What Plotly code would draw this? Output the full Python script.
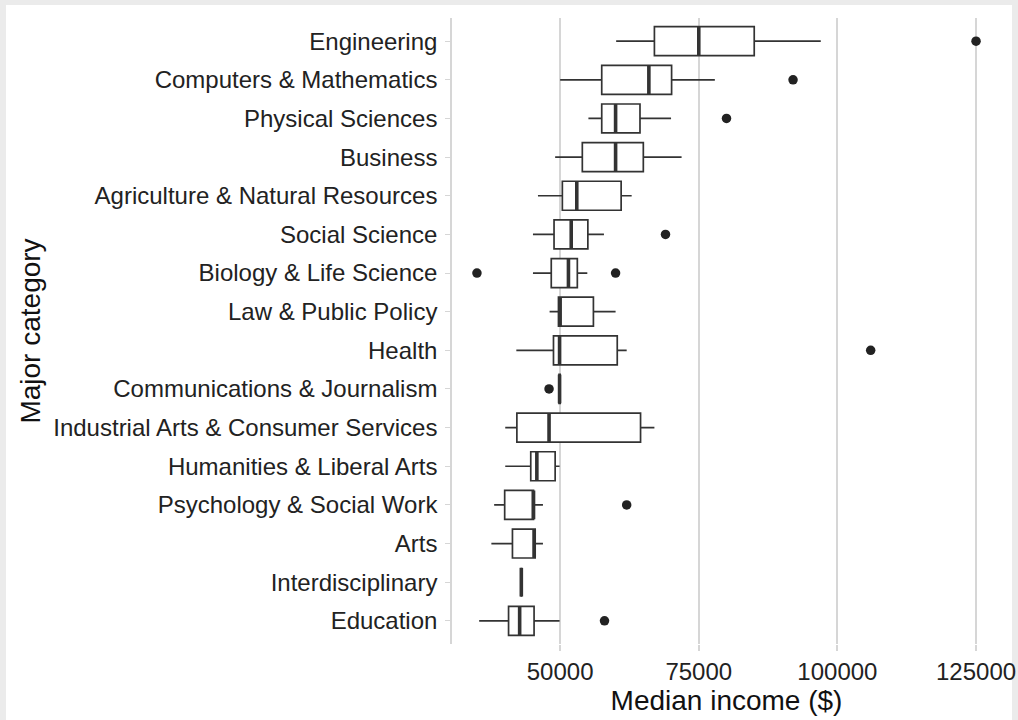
import plotly.graph_objects as go

# data (top to bottom)
categories = [
    "Engineering", "Computers & Mathematics", "Physical Sciences", "Business",
    "Agriculture & Natural Resources", "Social Science", "Biology & Life Science",
    "Law & Public Policy", "Health", "Communications & Journalism",
    "Industrial Arts & Consumer Services", "Humanities & Liberal Arts",
    "Psychology & Social Work", "Arts", "Interdisciplinary", "Education",
]
lower_whisker = [60100, 50000, 55100, 49100, 46000, 45100, 45100, 48100, 42100, 49800,
                 40100, 40100, 38100, 37600, 43000, 35400]
q1 = [67000, 57500, 57500, 54000, 50400, 48900, 48400, 49700, 48800, 49800,
      42200, 44700, 40000, 41400, 43000, 40700]
median = [75000, 66000, 60000, 60000, 53000, 52000, 51500, 50000, 49900, 49900,
          48000, 45800, 45200, 45300, 43000, 42700]
q3 = [85000, 70100, 64400, 65000, 61000, 55000, 53100, 56000, 60300, 50000,
      64500, 49100, 45200, 45500, 43000, 45300]
upper_whisker = [97000, 77900, 70000, 71900, 62900, 57900, 54900, 60000, 62000, 50000,
                 67000, 49900, 46900, 46900, 43000, 49900]

# outliers
out_cat = ["Engineering", "Computers & Mathematics", "Physical Sciences", "Social Science",
           "Biology & Life Science", "Biology & Life Science", "Health",
           "Communications & Journalism", "Psychology & Social Work", "Education"]
out_val = [125000, 92000, 80000, 69000, 35000, 60000, 106000, 48000, 62000, 58000]

x_ticks = [50000, 75000, 100000, 125000]

FONT = "Liberation Sans, Arial, Helvetica, sans-serif"
INK = "#333333"
GRID = "#d6d6d6"

fig = go.Figure()

fig.add_trace(go.Box(
    y=categories,
    q1=q1, median=median, q3=q3,
    lowerfence=lower_whisker, upperfence=upper_whisker,
    orientation="h",
    width=0.75,
    whiskerwidth=0,
    fillcolor="white",
    line=dict(color=INK, width=1.7),
    boxpoints=False,
    showlegend=False,
))

# thicker median bar, as in ggplot
fig.add_trace(go.Scatter(
    x=median, y=categories, mode="markers",
    marker=dict(symbol="line-ns", size=20.5, line=dict(color=INK, width=3.6)),
    showlegend=False, hoverinfo="skip",
))

fig.add_trace(go.Scatter(
    x=out_val, y=out_cat, mode="markers",
    marker=dict(symbol="circle", size=9.5, color="#222222"),
    showlegend=False,
))

# light grey frame round the white panel
fig.add_shape(
    type="rect", xref="paper", yref="paper", layer="below",
    x0=-446 / 549, x1=560 / 549, y0=-76 / 626, y1=639 / 626,
    fillcolor="white", line=dict(width=0),
)

fig.update_layout(
    width=1018, height=720,
    margin=dict(l=452, r=17, t=18, b=76, autoexpand=False),
    paper_bgcolor="#ebebeb",
    plot_bgcolor="white",
    font=dict(family=FONT, color="#222222"),
    xaxis=dict(
        range=[30500, 129500], automargin=False,
        tickvals=x_ticks, tickformat="d",
        showgrid=True, gridcolor=GRID, gridwidth=1.6,
        zeroline=False, showline=False,
        ticks="outside", ticklen=6, tickcolor=GRID, tickwidth=1.6,
        tickfont=dict(size=24, color="#222222"),
        title=dict(text="Median income ($)", font=dict(size=28, color="#111111"), standoff=0),
    ),
    yaxis=dict(
        type="category", automargin=False,
        categoryorder="array", categoryarray=categories,
        range=[15.6, -0.6],
        showgrid=False, zeroline=False,
        showline=True, linecolor=GRID, linewidth=1.6,
        ticks="outside", ticklen=5, tickcolor=GRID, tickwidth=1.2,
        ticklabelstandoff=3,
        tickfont=dict(size=24, color="#222222"),
        title=dict(text="Major category", font=dict(size=28, color="#111111"), standoff=4),
    ),
)

# page body margin would push the figure 8px off; drop it
fig.write_html("out.html", config={"displayModeBar": False},
               post_script="document.body.style.margin='0';")
